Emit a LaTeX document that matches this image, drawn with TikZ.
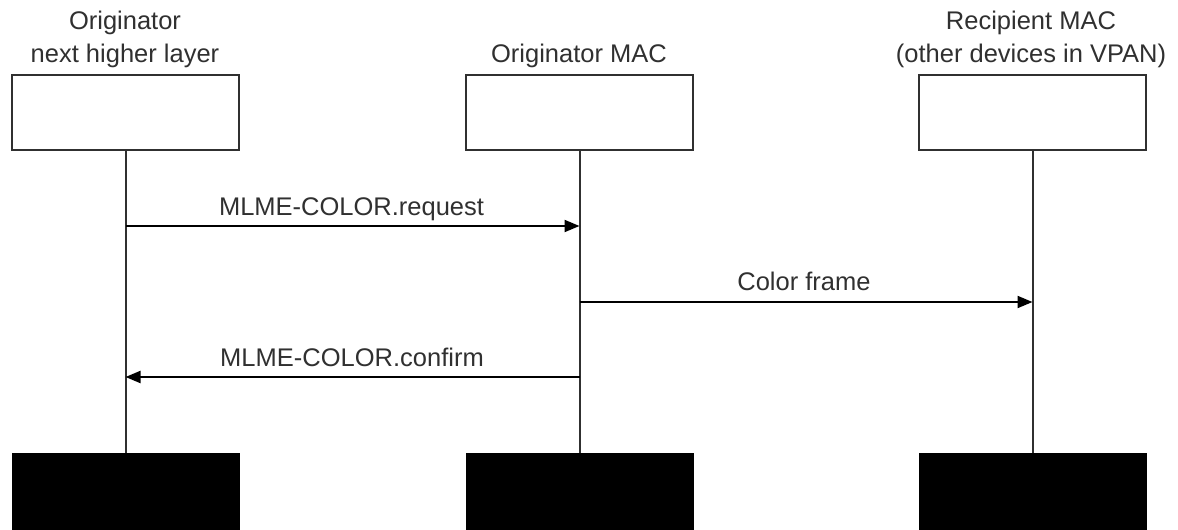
\documentclass[tikz,border=0pt]{standalone}
\usepackage{fontspec}
\setmainfont{Liberation Sans}
\usetikzlibrary{arrows.meta}
\definecolor{ink}{HTML}{303030}
\tikzset{
  lifebox/.style={draw=ink, line width=2pt, fill=white, minimum width=227pt, minimum height=75pt, inner sep=0pt},
  endbox/.style={draw=black, fill=black, minimum width=227pt, minimum height=77pt, inner sep=0pt},
  lifeline/.style={draw=ink, line width=2pt},
  msg/.style={draw=black, line width=2pt, -{Triangle[length=15pt,width=12pt]}},
  lbl/.style={text=ink, anchor=base, inner sep=0pt, font=\fontsize{25.5}{31}\selectfont}
}
\begin{document}
\begin{tikzpicture}[x=1pt,y=-1pt]
\useasboundingbox (0,0) rectangle (1178,530);
% headers
\node[lbl] (h1a) at (125,29) {Originator};
\node[lbl] (h1b) at (125,62) {next higher layer};
\node[lbl] (h2)  at (579,62) {Originator MAC};
\node[lbl] (h3a) at (1031,29) {Recipient MAC};
\node[lbl] (h3b) at (1031,62) {(other devices in VPAN)};
% boxes
\node[lifebox] (t1) at (125.5,112.5) {};
\node[lifebox] (t2) at (579.5,112.5) {};
\node[lifebox] (t3) at (1032.5,112.5) {};
\node[endbox] (e1) at (125.5,491.5) {};
\node[endbox] (e2) at (579.5,491.5) {};
\node[endbox] (e3) at (1032.5,491.5) {};
% lifelines
\draw[lifeline] (t1.south) -- (e1.north);
\draw[lifeline] (t2.south) -- (e2.north);
\draw[lifeline] (t3.south) -- (e3.north);
% message points
\coordinate (r1) at (125.5,226);
\coordinate (r2) at (579.5,226);
\coordinate (c2) at (579.5,302);
\coordinate (c3) at (1032.5,302);
\coordinate (f2) at (579.5,377);
\coordinate (f1) at (125.5,377);
\draw[msg] (r1) -- (r2);
\draw[msg] (c2) -- (c3);
\draw[msg] (f2) -- (f1);
% labels
\node[lbl] (l1) at (351.5,215) {MLME-COLOR.request};
\node[lbl] (l2) at (804,290) {Color frame};
\node[lbl] (l3) at (352,366) {MLME-COLOR.confirm};
\end{tikzpicture}
\end{document}
